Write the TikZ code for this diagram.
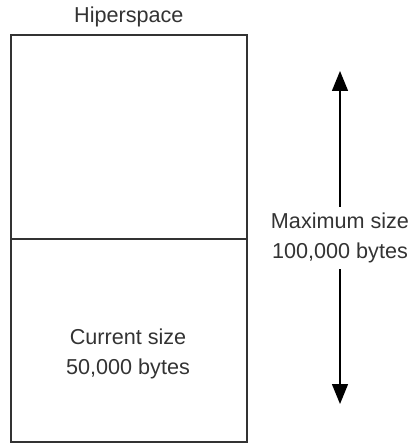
\documentclass[tikz,border=0pt]{standalone}
\usepackage{fontspec}
\setmainfont{Liberation Sans}
\usetikzlibrary{arrows.meta,positioning}

\begin{document}
\begin{tikzpicture}[
  x=0.5pt, y=-0.5pt,
  part/.style={draw=black!80, line width=0.8pt, minimum width=118pt,
               inner sep=0pt, anchor=north west},
  label/.style={align=center, font=\fontsize{10.8}{15}\selectfont,
                text=black!80, inner sep=3pt},
  arrow/.style={-{Triangle[length=10pt, width=8pt]}, line width=0.7pt}
]
\useasboundingbox (0,0) rectangle (413,443);
\node[part, minimum height=102pt] (upper) at (10,34) {};
\node[part, minimum height=101.5pt] (lower) at (10,238) {};
\node[label, above=0.5pt of upper] (title) {Hiperspace};
\node[label] (current) at (128,354) {Current size\\50,000 bytes};
\node[label] (max) at (340,238) {Maximum size\\100,000 bytes};
\coordinate (top) at (340,71);
\coordinate (bottom) at (340,404);
\draw[arrow] (max.north) -- (top);
\draw[arrow] (max.south) -- (bottom);
\end{tikzpicture}
\end{document}
